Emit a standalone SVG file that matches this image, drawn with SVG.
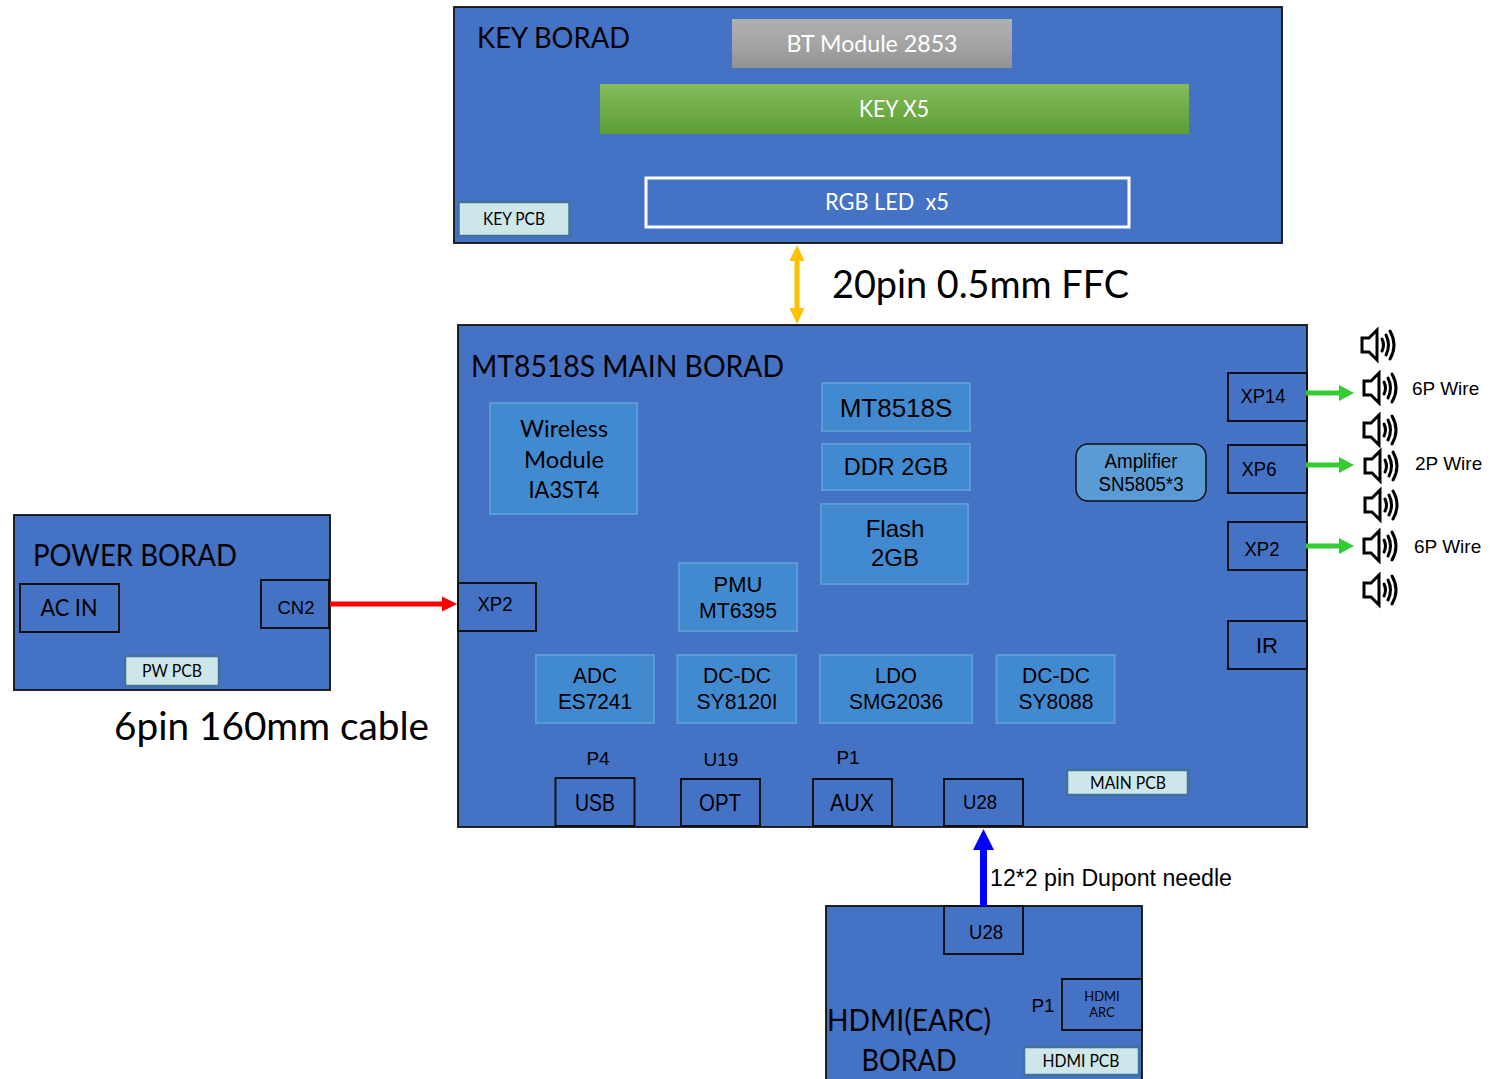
<svg xmlns="http://www.w3.org/2000/svg" xmlns:xlink="http://www.w3.org/1999/xlink" width="1490" height="1079" viewBox="0 0 1490 1079">
<style>
text{font-family:"Lato","Open Sans",sans-serif;fill:#000;text-anchor:middle}
.a{font-family:"Liberation Sans",Arial,sans-serif}
.start{text-anchor:start}
.board{fill:#4472c4;stroke:#111;stroke-width:1.800}
.port{fill:#4472c4;stroke:#111;stroke-width:2}
.chip{fill:#428ad0;stroke:#5b9bd5;stroke-width:2}
.pcb{fill:#cde6ea;stroke:#41719c;stroke-width:2.500}
.w{fill:#fff}
.spk path{fill:none;stroke:#000;stroke-width:3;stroke-linecap:round}
</style>
<defs>
<linearGradient id="grey" x1="0" y1="0" x2="0" y2="1"><stop offset="0" stop-color="#afafaf"/><stop offset="0.5" stop-color="#a5a5a5"/><stop offset="1" stop-color="#929292"/></linearGradient>
<linearGradient id="green" x1="0" y1="0" x2="0" y2="1"><stop offset="0" stop-color="#84bb5f"/><stop offset="0.5" stop-color="#70ad47"/><stop offset="1" stop-color="#5e9c36"/></linearGradient>
<g id="speaker" class="spk"><path d="M-16-7H-9L-1-15V15L-9 7H-16Z"/><path d="M4-6Q7 0 4 6"/><path d="M8-10Q13 0 8 10"/><path d="M12-14Q20 0 12 14"/></g>
</defs>

<g id="key-board">
<rect class="board" x="454" y="7" width="828" height="236"/>
<text class="start" x="477" y="48" font-size="29" textLength="153" lengthAdjust="spacingAndGlyphs">KEY BORAD</text>
<rect x="732" y="19" width="280" height="49" fill="url(#grey)"/>
<text class="w" x="872" y="52" font-size="24" textLength="171" lengthAdjust="spacingAndGlyphs">BT Module 2853</text>
<rect x="600" y="84" width="589" height="50" fill="url(#green)"/>
<text class="w" x="894" y="117" font-size="23" textLength="70" lengthAdjust="spacingAndGlyphs">KEY X5</text>
<rect x="646" y="178" width="483" height="49" fill="none" stroke="#fff" stroke-width="3"/>
<text class="w" x="887" y="210" font-size="23" xml:space="preserve" textLength="124" lengthAdjust="spacingAndGlyphs">RGB LED  x5</text>
<rect class="pcb" x="458.500" y="202" width="111" height="34"/>
<text x="514" y="225" font-size="17" textLength="62" lengthAdjust="spacingAndGlyphs">KEY PCB</text>
</g>

<g id="main-board">
<rect class="board" x="458" y="325" width="849" height="502"/>
<text class="start" x="471" y="377" font-size="30" textLength="313" lengthAdjust="spacingAndGlyphs">MT8518S MAIN BORAD</text>
</g>
<g id="wireless"><rect class="chip" x="490" y="403" width="147" height="111"/>
<text x="564" y="437" font-size="24" textLength="88" lengthAdjust="spacingAndGlyphs">Wireless</text><text x="564" y="468" font-size="24" textLength="80" lengthAdjust="spacingAndGlyphs">Module</text><text x="564" y="498" font-size="24" textLength="71" lengthAdjust="spacingAndGlyphs">IA3ST4</text></g>
<g id="mt8518s"><rect class="chip" x="822" y="383" width="148" height="48"/><text class="a" x="896" y="417" font-size="26">MT8518S</text></g>
<g id="ddr"><rect class="chip" x="822" y="444" width="148" height="46"/><text class="a" x="896" y="475" font-size="23.500">DDR 2GB</text></g>
<g id="flash"><rect class="chip" x="821" y="504" width="147" height="80"/><text class="a" x="895" y="537" font-size="24">Flash</text><text class="a" x="895" y="566" font-size="24">2GB</text></g>
<g id="pmu"><rect class="chip" x="679" y="563" width="118" height="68"/><text class="a" x="738" y="592" font-size="22">PMU</text><text class="a" x="738" y="618" font-size="22" textLength="78" lengthAdjust="spacingAndGlyphs">MT6395</text></g>
<g id="amplifier"><rect x="1076" y="444" width="130" height="57" rx="12" fill="#5b9bd5" stroke="#111" stroke-width="1.500"/><text class="a" x="1141" y="468" font-size="20" textLength="73" lengthAdjust="spacingAndGlyphs">Amplifier</text><text class="a" x="1141" y="491" font-size="20" textLength="85" lengthAdjust="spacingAndGlyphs">SN5805*3</text></g>
<g id="adc"><rect class="chip" x="536" y="655" width="118" height="68"/><text class="a" x="595" y="683" font-size="22" textLength="44" lengthAdjust="spacingAndGlyphs">ADC</text><text class="a" x="595" y="709" font-size="22" textLength="74" lengthAdjust="spacingAndGlyphs">ES7241</text></g>
<g id="dcdc1"><rect class="chip" x="677.500" y="655" width="118.500" height="68"/><text class="a" x="737" y="683" font-size="22" textLength="68" lengthAdjust="spacingAndGlyphs">DC-DC</text><text class="a" x="737" y="709" font-size="22" textLength="81" lengthAdjust="spacingAndGlyphs">SY8120I</text></g>
<g id="ldo"><rect class="chip" x="820" y="655" width="152" height="68"/><text class="a" x="896" y="683" font-size="22" textLength="42" lengthAdjust="spacingAndGlyphs">LDO</text><text class="a" x="896" y="709" font-size="22" textLength="94" lengthAdjust="spacingAndGlyphs">SMG2036</text></g>
<g id="dcdc2"><rect class="chip" x="996.500" y="655" width="118" height="68"/><text class="a" x="1056" y="683" font-size="22" textLength="68" lengthAdjust="spacingAndGlyphs">DC-DC</text><text class="a" x="1056" y="709" font-size="22" textLength="75" lengthAdjust="spacingAndGlyphs">SY8088</text></g>

<g id="xp2-left"><rect class="port" x="458" y="583" width="78" height="48"/><text class="a" x="495" y="611" font-size="20" textLength="35" lengthAdjust="spacingAndGlyphs">XP2</text></g>
<g id="xp14"><rect class="port" x="1228" y="373" width="79" height="48"/><text class="a" x="1263" y="403" font-size="20" textLength="45" lengthAdjust="spacingAndGlyphs">XP14</text></g>
<g id="xp6"><rect class="port" x="1228" y="445" width="79" height="48"/><text class="a" x="1259" y="476" font-size="20" textLength="35" lengthAdjust="spacingAndGlyphs">XP6</text></g>
<g id="xp2-right"><rect class="port" x="1228" y="522" width="79" height="48"/><text class="a" x="1262" y="556" font-size="20" textLength="35" lengthAdjust="spacingAndGlyphs">XP2</text></g>
<g id="ir"><rect class="port" x="1228" y="621" width="79" height="48"/><text class="a" x="1267" y="653" font-size="22">IR</text></g>

<g id="usb"><text class="a" x="598" y="765" font-size="19">P4</text><rect class="port" x="555.500" y="778" width="79" height="48"/><text class="a" x="595" y="811" font-size="23" textLength="40" lengthAdjust="spacingAndGlyphs">USB</text></g>
<g id="opt"><text class="a" x="721" y="766" font-size="19">U19</text><rect class="port" x="681" y="779" width="79" height="47"/><text class="a" x="720" y="811" font-size="23" textLength="42" lengthAdjust="spacingAndGlyphs">OPT</text></g>
<g id="aux"><text class="a" x="848" y="764" font-size="19">P1</text><rect class="port" x="813" y="779" width="79" height="47"/><text class="a" x="852" y="811" font-size="23" textLength="44" lengthAdjust="spacingAndGlyphs">AUX</text></g>
<g id="u28-main"><rect class="port" x="944" y="779" width="79" height="47"/><text class="a" x="980" y="809" font-size="20" textLength="34" lengthAdjust="spacingAndGlyphs">U28</text></g>
<g id="main-pcb"><rect class="pcb" x="1067" y="770" width="121" height="25"/><text x="1128" y="789" font-size="17" textLength="76" lengthAdjust="spacingAndGlyphs">MAIN PCB</text></g>

<g id="power-board">
<rect class="board" x="14" y="515" width="316" height="175"/>
<text class="start" x="33" y="566" font-size="30" textLength="204" lengthAdjust="spacingAndGlyphs">POWER BORAD</text>
<rect class="port" x="20" y="584" width="99" height="48"/><text x="69" y="616" font-size="24" textLength="57" lengthAdjust="spacingAndGlyphs">AC IN</text>
<rect class="port" x="261" y="580" width="68" height="48"/><text class="a" x="296" y="614" font-size="19" textLength="37" lengthAdjust="spacingAndGlyphs">CN2</text>
<rect class="pcb" x="125" y="656" width="94" height="30"/><text x="172" y="677" font-size="17" textLength="60" lengthAdjust="spacingAndGlyphs">PW PCB</text>
</g>

<g id="hdmi-board">
<rect class="board" x="826" y="906" width="316" height="180"/>
<rect class="port" x="944" y="906" width="79" height="48"/><text class="a" x="986" y="939" font-size="20" textLength="34" lengthAdjust="spacingAndGlyphs">U28</text>
<text x="909" y="1031" font-size="30" textLength="164" lengthAdjust="spacingAndGlyphs">HDMI(EARC)</text><text x="909" y="1071" font-size="30" textLength="95" lengthAdjust="spacingAndGlyphs">BORAD</text>
<text class="a" x="1043" y="1012" font-size="19">P1</text>
<rect class="port" x="1062" y="979" width="80" height="51"/><text x="1102" y="1001" font-size="13">HDMI</text><text x="1102" y="1017" font-size="13">ARC</text>
<rect class="pcb" x="1024" y="1047" width="115" height="28"/><text x="1081" y="1067" font-size="17" textLength="77" lengthAdjust="spacingAndGlyphs">HDMI PCB</text>
</g>

<g id="connectors">
<path d="M797 258V311" stroke="#ffc000" stroke-width="5" fill="none"/>
<path d="M797 245L804.500 261H789.500ZM797 324L804.500 308H789.500Z" fill="#ffc000"/>
<path d="M330 604H443" stroke="#ff0000" stroke-width="5" fill="none"/><path d="M457 604L442 596.500V611.500Z" fill="#ff0000"/>
<path d="M983.500 906V848" stroke="#0000ff" stroke-width="7" fill="none"/><path d="M983.500 829L994 850H973Z" fill="#0000ff"/>
<path d="M1306 393H1340M1306 465H1340M1306 546H1340" stroke="#33cc33" stroke-width="5" fill="none"/>
<path d="M1354 393L1339 385V401ZM1354 465L1339 457V473ZM1354 546L1339 538V554Z" fill="#33cc33"/>
</g>

<g id="speakers">
<use xlink:href="#speaker" href="#speaker" x="1378" y="345"/>
<use xlink:href="#speaker" href="#speaker" x="1380" y="388"/>
<use xlink:href="#speaker" href="#speaker" x="1380" y="430"/>
<use xlink:href="#speaker" href="#speaker" x="1381" y="466"/>
<use xlink:href="#speaker" href="#speaker" x="1381" y="505"/>
<use xlink:href="#speaker" href="#speaker" x="1380" y="546"/>
<use xlink:href="#speaker" href="#speaker" x="1380" y="590"/>
</g>

<g id="labels">
<text class="start" x="832" y="298" font-size="38" textLength="297" lengthAdjust="spacingAndGlyphs">20pin 0.5mm FFC</text>
<text class="start" x="114" y="740" font-size="38" textLength="315" lengthAdjust="spacingAndGlyphs">6pin 160mm cable</text>
<text class="a start" x="990" y="886" font-size="23" textLength="242" lengthAdjust="spacingAndGlyphs">12*2 pin Dupont needle</text>
<text class="a start" x="1412" y="395" font-size="19">6P Wire</text>
<text class="a start" x="1415" y="470" font-size="19">2P Wire</text>
<text class="a start" x="1414" y="553" font-size="19">6P Wire</text>
</g>
</svg>
